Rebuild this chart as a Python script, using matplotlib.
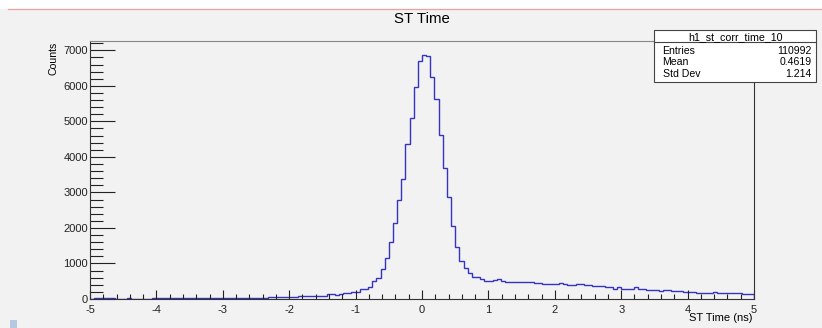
import matplotlib
matplotlib.use('Agg')
import matplotlib.pyplot as plt
from matplotlib.patches import Rectangle
from matplotlib.lines import Line2D
import numpy as np

plt.rcParams['font.family'] = 'Liberation Sans'
plt.rcParams['axes.unicode_minus'] = False

# histogram h1_st_corr_time_10 : 160 bins from -5 to 5 ns, one list per ns
x_low, x_high, n_bins = -5.0, 5.0, 160
counts_m5 = [0, 15, 20, 18, 20, 15, 0, 0, 12, 15, 0, 14, 0, 12, 10, 15]
counts_m4 = [18, 15, 20, 18, 22, 15, 20, 18, 22, 20, 18, 22, 25, 20, 22, 25]
counts_m3 = [32, 35, 30, 35, 33, 36, 35, 32, 38, 35, 36, 55, 55, 58, 55, 60]
counts_m2 = [65, 65, 84, 78, 93, 93, 95, 92, 95, 150, 150, 103, 140, 160, 165, 196]
counts_m1 = [200, 270, 280, 335, 505, 590, 835, 1165, 1615, 2140, 2780, 3390,
             4350, 5105, 5980, 6690]
counts_p0 = [6880, 6830, 6245, 5620, 4620, 3680, 2875, 2060, 1465, 1060, 865, 725,
             615, 610, 570, 513]
counts_p1 = [513, 525, 560, 513, 485, 485, 485, 470, 478, 465, 478, 448, 448, 420, 420, 420]
counts_p2 = [420, 457, 430, 400, 400, 410, 410, 383, 383, 355, 355, 355, 345, 345, 290, 345]
counts_p3 = [290, 290, 290, 336, 280, 280, 261, 261, 261, 215, 243, 243, 215, 215, 215, 196]
counts_p4 = [196, 196, 177, 177, 177, 177, 185, 168, 168, 160, 160, 160, 168, 150, 150, 150]

hist_name = 'h1_st_corr_time_10'
stat_labels = ['Entries', 'Mean', 'Std Dev']
stat_values = ['110992', '0.4619', '1.214']

counts = np.array(counts_m5 + counts_m4 + counts_m3 + counts_m2 + counts_m1 +
                  counts_p0 + counts_p1 + counts_p2 + counts_p3 + counts_p4, dtype=float)
edges = np.linspace(x_low, x_high, n_bins + 1)

W, H = 822, 328
bg = '#f2f2f2'
fig = plt.figure(figsize=(W / 100, H / 100), dpi=100)
fig.patch.set_facecolor(bg)

def fx(px):
    return px / W

def fy(py):
    return 1 - py / H

# page decorations: white strip at top, pink rule, small blue square
fig.patches.append(Rectangle((0, fy(9.3)), 1, 9.3 / H, transform=fig.transFigure,
                             facecolor='white', edgecolor='none', zorder=-1))
fig.lines.append(Line2D([fx(8), 1], [fy(9.3), fy(9.3)], transform=fig.transFigure,
                        color='#eea0a0', lw=0.9))
fig.patches.append(Rectangle((fx(10), 0), 7 / W, 8 / H, transform=fig.transFigure,
                             facecolor='#b4c8e0', edgecolor='none'))

ax = fig.add_axes([fx(90), fy(299), (754 - 90) / W, (299 - 41) / H])
ax.set_facecolor(bg)
ax.stairs(counts, edges, color='#3434c0', lw=1.0)

ax.set_xlim(x_low, x_high)
ax.set_ylim(0, 7262)
ax.xaxis.set_major_locator(plt.MultipleLocator(1))
ax.xaxis.set_minor_locator(plt.MultipleLocator(0.2))
ax.yaxis.set_major_locator(plt.MultipleLocator(1000))
ax.yaxis.set_minor_locator(plt.MultipleLocator(200))

ax.tick_params(axis='both', which='both', direction='in', colors='#222222',
               labelsize=8, width=0.8)
ax.tick_params(axis='x', which='major', length=6.6, pad=4)
ax.tick_params(axis='x', which='minor', length=3.5)
ax.tick_params(axis='y', which='major', length=18, pad=1.3)
ax.tick_params(axis='y', which='minor', length=9)
for side in ['left', 'bottom', 'right']:
    ax.spines[side].set_color('#333333')
    ax.spines[side].set_linewidth(0.8)
ax.spines['top'].set_color('#888888')
ax.spines['top'].set_linewidth(0.8)

fig.text(fx(421.5), fy(23.3), 'ST Time', ha='center', va='baseline', fontsize=10.8)
fig.text(fx(752.5), fy(321), 'ST Time (ns)', ha='right', va='baseline', fontsize=8)
fig.text(fx(53), fy(41.5), 'Counts', rotation=90, ha='center', va='top', fontsize=7.6)

# stats box
box_l, box_r, box_t, box_b = 654, 816, 30, 82
fig.patches.append(Rectangle((fx(box_l), fy(box_b)), (box_r - box_l) / W, (box_b - box_t) / H,
                             transform=fig.transFigure, facecolor='white',
                             edgecolor='#444444', lw=0.8, zorder=3))
fig.lines.append(Line2D([fx(box_l), fx(box_r)], [fy(42), fy(42)], transform=fig.transFigure,
                        color='#444444', lw=0.8, zorder=4))
fig.text(fx((box_l + box_r) / 2), fy(39.8), hist_name, ha='center', va='baseline',
         fontsize=7.7, zorder=5)
for i, (lab, val) in enumerate(zip(stat_labels, stat_values)):
    yb = 53.6 + i * 11.8
    fig.text(fx(662.5), fy(yb), lab, ha='left', va='baseline', fontsize=7.6, zorder=5)
    fig.text(fx(811.8), fy(yb), val, ha='right', va='baseline', fontsize=7.6, zorder=5)

fig.savefig('out.png', dpi=100, facecolor=fig.get_facecolor())
